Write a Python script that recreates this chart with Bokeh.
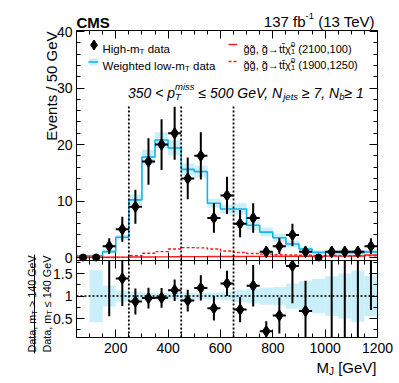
import math
from bokeh.plotting import figure
from bokeh.models import (Label, Legend, LegendItem, LinearAxis, SingleIntervalTicker,
                          ColumnDataSource, Range1d, Arrow)
from bokeh.embed import file_html
from bokeh.resources import INLINE

nan = float("nan")

# ---------------- data ----------------
bin_centers = [75, 125, 175, 225, 275, 325, 375, 425, 475, 525, 575, 625,
               675, 725, 775, 825, 875, 925, 975, 1025, 1075, 1125, 1175]
bin_half_width = 25
high_mt_data = [0, 0, 2, 5, 9, 17, 20, 22, 14, 18, 7, 11,
                6, 7, 1, 2, 4, 1, 0, 1, 1, 1, 2]
high_mt_err = [0, 0, 1.4, 2.2, 3.0, 4.1, 4.5, 4.7, 3.7, 4.2, 2.6, 3.3,
               2.4, 2.6, 1.0, 1.4, 2.0, 1.0, 0, 1.0, 1.0, 1.0, 1.4]
low_mt_weighted = [0.3, 0.3, 1.05, 3.6, 10.2, 17.8, 20.8, 19.4, 15.6, 15.2, 9.6, 8.6,
                   8.6, 5.7, 4.5, 3.5, 2.4, 1.5, 0.9, 0.9, 0.85, 0.85, 1.0]
low_mt_err = [0.1, 0.15, 0.25, 0.45, 0.95, 1.3, 1.4, 1.35, 1.05, 1.05, 0.8, 0.8,
              1.0, 0.85, 0.8, 0.7, 0.6, 0.45, 0.35, 0.4, 0.42, 0.48, 0.4]
sig_2100_100 = [0.05, 0.05, 0.05, 0.06, 0.08, 0.1, 0.12, 0.13, 0.15, 0.16, 0.17, 0.18,
                0.19, 0.2, 0.2, 0.21, 0.22, 0.22, 0.23, 0.24, 0.25, 0.27, 0.45]
sig_1900_1250 = [0, 0, 0, 0.02, 0.3, 0.75, 1.05, 1.5, 1.75, 1.7, 1.5, 1.15,
                 0.9, 0.7, 0.6, 0.5, 0.45, 0.4, 0.35, 0.35, 0.3, 0.3, 0.3]
ratio_vals = [nan, nan, 1.9, 1.39, 0.88, 0.955, 0.96, 1.13, 0.9, 1.18, 0.73, 1.28,
              0.7, 1.23, 0.22, 0.57, 1.67, 0.67, nan, 2.5, 2.5, 2.5, 2.35]
ratio_err = [0, 0, 1.35, 0.61, 0.29, 0.23, 0.22, 0.24, 0.24, 0.28, 0.27, 0.28,
             0.28, 0.46, 0.22, 0.4, 0.83, 0.67, 0, 2.5, 2.5, 2.5, 1.66]
ratio_band = [nan, 0.575, 0.23, 0.125, 0.095, 0.08, 0.07, 0.07, 0.07, 0.07, 0.08, 0.09,
              0.13, 0.16, 0.19, 0.2, 0.28, 0.33, 0.38, 0.44, 0.5, 0.57, 0.44]
cut_edges = [250, 450, 650]
cut_line_top = 27

# ---------------- style / layout ----------------
FONT = "Liberation Sans"
CYAN = "#12b4ee"
BAND = "#c8effa"
RED = "#ff1a1a"
XMIN, XMAX = 50, 1200
MY0, MY1 = -0.53, 40.2
RY0, RY1 = 0.08, 1.79
W, H = 395, 380
BOX_L, BOX_R = 76, 377
MAIN_T, MAIN_B, RAT_B = 30, 260, 337
MARK = 11.5

sx = (BOX_R - BOX_L) / (XMAX - XMIN)
x_start = XMIN - BOX_L / sx
x_end = x_start + W / sx
mpx = (MAIN_B - MAIN_T) / (MY1 - MY0)
m_top = MY1 + MAIN_T / mpx
m_bot = MY0 - (H - MAIN_B) / mpx
rpx = (RAT_B - MAIN_B) / (RY1 - RY0)
r_top = RY1 + MAIN_B / rpx
r_bot = RY0 - (H - RAT_B) / rpx

def mx(px):
    return x_start + px / sx

def my(py):
    return m_top - py / mpx

AW = {' ': 278, ',': 278, '.': 278, '-': 333, '/': 278, '(': 333, ')': 333, '[': 278, ']': 278,
      '<': 584, '>': 584, '\u2264': 549, '\u2265': 549, '\u2192': 1000, '\u03c7': 549,
      '\u0303': 0, '\u0304': 0,
      'A': 667, 'C': 722, 'D': 722, 'E': 667, 'G': 778, 'H': 722, 'J': 500, 'M': 833,
      'N': 722, 'S': 667, 'T': 611, 'V': 667, 'W': 944,
      'a': 556, 'b': 556, 'd': 556, 'e': 556, 'f': 278, 'g': 556, 'h': 556, 'i': 222,
      'j': 222, 'l': 222, 'm': 833, 'n': 556, 'o': 556, 'p': 556, 's': 500, 't': 278,
      'v': 500, 'w': 722}

def tw(s, size):
    return sum(AW.get(c, 556) for c in s) * size / 1000.0

p = figure(width=W, height=H, title=None,
           x_range=Range1d(x_start, x_end), y_range=Range1d(m_bot, m_top),
           output_backend="svg", toolbar_location=None,
           min_border=0, min_border_left=0, min_border_right=0, min_border_top=0, min_border_bottom=0,
           x_axis_location=None, y_axis_location=None)
p.extra_y_ranges = {"ratio": Range1d(r_bot, r_top)}
p.grid.visible = False
p.outline_line_color = None
p.background_fill_color = "white"
p.border_fill_color = "white"

def lab(xpx, ypx, text, size, align="left", style="normal", angle=0.0):
    lead = len(text) - len(text.lstrip(' '))
    if lead and align == "left" and angle == 0:
        xpx += tw(' ' * lead, size)
    p.add_layout(Label(x=mx(xpx), y=my(ypx), text=text.strip(' '), text_font=FONT,
                       text_font_size=f"{size}px", text_font_style=style,
                       text_align=align, text_baseline="alphabetic", angle=angle,
                       text_color="black"))

def seq(x, base, pieces, style="normal"):
    for text, size, dy, adv in pieces:
        lab(x, base + dy, text, size, style=style)
        if adv:
            x += tw(text, size)
    return x

def rseq(base_px, start_py, pieces):
    py = start_py
    for text, size, dy in pieces:
        lead = len(text) - len(text.lstrip(' '))
        py -= tw(' ' * lead, size)
        p.add_layout(Label(x=mx(base_px + dy), y=my(py), text=text.strip(' '), text_font=FONT,
                           text_font_size=f"{size}px", text_align="left",
                           text_baseline="alphabetic", angle=math.pi / 2, text_color="black"))
        py -= tw(text.lstrip(' '), size)

def axis(interval, minor, fixed, bounds, labels=False, yname="default", standoff=4, overrides=None):
    ax = LinearAxis(
        ticker=SingleIntervalTicker(interval=interval, num_minor_ticks=minor),
        fixed_location=fixed, bounds=bounds, y_range_name=yname,
        major_tick_in=8, major_tick_out=0, minor_tick_in=4, minor_tick_out=0,
        axis_line_color="black", axis_line_width=1,
        major_tick_line_color="black", minor_tick_line_color="black",
        major_label_text_font=FONT, major_label_text_font_size="14px",
        major_label_standoff=standoff,
        major_label_text_color=("black" if labels else None))
    if overrides:
        ax.major_label_overrides = overrides
    return ax

# frame boxes built from axes
p.add_layout(axis(10, 5, XMIN, (MY0, MY1), labels=True, standoff=4), "left")
p.add_layout(axis(10, 5, XMAX, (MY0, MY1)), "right")
p.add_layout(axis(200, 4, MY1, (XMIN, XMAX)), "above")
p.add_layout(axis(200, 4, MY0, (XMIN, XMAX)), "below")
p.add_layout(axis(0.5, 2, XMIN, (RY0, RY1), labels=True, yname="ratio", standoff=4,
                  overrides={0.5: "0.5", 1: "1", 1.5: "1.5"}), "left")
p.add_layout(axis(0.5, 2, XMAX, (RY0, RY1), yname="ratio"), "right")
p.add_layout(axis(200, 4, RY1, (XMIN, XMAX), yname="ratio"), "above")
p.add_layout(axis(200, 4, RY0, (XMIN, XMAX), labels=True, yname="ratio", standoff=5), "below")

# ---------------- derived sources ----------------
lefts = [c - bin_half_width for c in bin_centers]
rights = [c + bin_half_width for c in bin_centers]
edges = lefts + [rights[-1]]

nz = [i for i, v in enumerate(high_mt_data) if v > 0]
zr = [i for i, v in enumerate(high_mt_data) if v == 0]
src_nz = ColumnDataSource(dict(
    x=[bin_centers[i] for i in nz], y=[high_mt_data[i] for i in nz],
    lo=[high_mt_data[i] - high_mt_err[i] for i in nz], hi=[high_mt_data[i] + high_mt_err[i] for i in nz],
    l=[lefts[i] for i in nz], r=[rights[i] for i in nz]))
src_z = ColumnDataSource(dict(x=[bin_centers[i] for i in zr], y=[high_mt_data[i] for i in zr]))
src_band = ColumnDataSource(dict(
    l=lefts, r=rights,
    b=[v - e for v, e in zip(low_mt_weighted, low_mt_err)],
    t=[v + e for v, e in zip(low_mt_weighted, low_mt_err)]))

# ratio: keep what lies inside the ratio box (the pad clips it in the original)
rk = [i for i, v in enumerate(ratio_vals) if not math.isnan(v)]
src_rbar = ColumnDataSource(dict(
    x=[bin_centers[i] for i in rk],
    lo=[max(ratio_vals[i] - ratio_err[i], RY0) for i in rk],
    hi=[min(ratio_vals[i] + ratio_err[i], RY1) for i in rk]))
rv = [i for i in rk if RY0 <= ratio_vals[i] <= RY1]
src_rpt = ColumnDataSource(dict(
    x=[bin_centers[i] for i in rv], y=[ratio_vals[i] for i in rv],
    l=[lefts[i] for i in rv], r=[rights[i] for i in rv]))
bk = [i for i, v in enumerate(ratio_band) if not math.isnan(v)]
src_rb = ColumnDataSource(dict(
    l=[lefts[i] for i in bk], r=[rights[i] for i in bk],
    b=[1 - ratio_band[i] for i in bk], t=[1 + ratio_band[i] for i in bk]))

# ---------------- main panel glyphs ----------------
r_band = p.quad(left="l", right="r", bottom="b", top="t", source=src_band,
                fill_color=BAND, line_color=None)
r_step = p.step(edges, low_mt_weighted + [low_mt_weighted[-1]], mode="after",
                line_color=CYAN, line_width=1.6)
r_sa = p.step(edges, sig_2100_100 + [sig_2100_100[-1]], mode="after",
              line_color=RED, line_width=1.4)
r_sb = p.step(edges, sig_1900_1250 + [sig_1900_1250[-1]], mode="after",
              line_color=RED, line_width=1.4, line_dash="3 2")
p.segment(x0=cut_edges, y0=[MY0] * len(cut_edges), x1=cut_edges, y1=[cut_line_top] * len(cut_edges),
          line_color="black", line_width=1.8, line_dash="2 2")
p.segment(x0="x", y0="lo", x1="x", y1="hi", source=src_nz, line_color="black", line_width=2)
p.segment(x0="l", y0="y", x1="r", y1="y", source=src_nz, line_color="black", line_width=2)
r_data = p.scatter("x", "y", source=src_nz, marker="diamond", size=MARK,
                   fill_color="black", line_color="black")
p.scatter("x", "y", source=src_z, marker="circle", size=7, fill_color="black", line_color="black")

# ---------------- ratio panel glyphs ----------------
p.quad(left="l", right="r", bottom="b", top="t", source=src_rb, fill_color=BAND, line_color=None,
       y_range_name="ratio")
p.segment(x0=[XMIN], y0=[1], x1=[XMAX], y1=[1], line_color="black", line_width=1.5,
          line_dash="2 2", y_range_name="ratio")
p.segment(x0=cut_edges, y0=[RY0] * len(cut_edges), x1=cut_edges, y1=[RY1] * len(cut_edges),
          line_color="black", line_width=1.8, line_dash="2 2", y_range_name="ratio")
p.segment(x0="x", y0="lo", x1="x", y1="hi", source=src_rbar, line_color="black", line_width=2,
          y_range_name="ratio")
p.segment(x0="l", y0="y", x1="r", y1="y", source=src_rpt, line_color="black", line_width=2,
          y_range_name="ratio")
p.scatter("x", "y", source=src_rpt, marker="diamond", size=MARK, fill_color="black",
          line_color="black", y_range_name="ratio")

# ---------------- legends ----------------
def mk_legend(items, loc, gw, gh, spacing=0):
    return Legend(items=items, location=loc, glyph_width=gw, glyph_height=gh,
                  label_width=0, label_height=gh, label_standoff=0, padding=0, spacing=spacing,
                  margin=0, border_line_alpha=0, background_fill_alpha=0,
                  label_text_font_size="1px", label_text_color="white")

p.add_layout(mk_legend([LegendItem(label=" ", renderers=[r_data])], (80.5, H - 56.5), 25, 25))
p.add_layout(mk_legend([LegendItem(label=" ", renderers=[r_band, r_step])], (88, H - 65.5), 10, 9))
p.add_layout(mk_legend([LegendItem(label=" ", renderers=[r_sa]),
                        LegendItem(label=" ", renderers=[r_sb])], (227.5, H - 65), 9, 8, spacing=9))

# ---------------- texts ----------------
lab(76, 22, "CMS", 15, style="bold")
w_hdr = tw("137 fb", 15) + tw("-1", 9.5) + tw(" (13 TeV)", 15)
seq(376 - w_hdr, 21, [("137 fb", 15, 0, True), ("-1", 9.5, -6, True), (" (13 TeV)", 15, 0, True)])

seq(102, 48, [("High-m", 11.5, 0, True), ("T", 8, 3, True), (" data", 11.5, 0, True)])
seq(102, 65, [("Weighted low-m", 11.5, 0, True), ("T", 8, 3, True), (" data", 11.5, 0, True)])
sig_txt = "g\u0303g\u0303, g\u0303\u2192tt\u0304\u03c7\u0303"
for base, masses in ((48, "(2100,100)"), (64.5, "(1900,1250)")):
    seq(243, base, [(sig_txt, 11, 0, True), ("0", 7.5, -4.5, False), ("1", 7.5, 2.5, True),
                    (" " + masses, 11, 0, True)])

seq(127.5, 92, [("350 < p", 14, 0, True), ("T", 9.5, 3.5, False), ("miss", 9.5, -6, True),
                (" \u2264 500 GeV, N", 14, 0, True), ("jets", 9.5, 3.5, True),
                (" \u2265 7, N", 14, 0, True), ("b", 9.5, 3.5, True), ("\u2265 1", 14, 0, True)],
    style="italic")

lab(51, 31, "Events / 50 GeV", 15, align="right", angle=math.pi / 2)

w_xt = tw("M", 15) + tw("J", 10) + tw(" [GeV]", 15)
seq(376 - w_xt, 367, [("M", 15, 0, True), ("J", 10, 3.5, True), (" [GeV]", 15, 0, True)])

rseq(31, 352, [("Data, m", 10.8, 0), ("T", 7.5, 2.5), (" > 140 GeV", 10.8, 0)])
rseq(46, 352, [("Data, m", 10.8, 0), ("T", 7.5, 2.5), (" \u2264 140 GeV", 10.8, 0)])
p.add_layout(Arrow(start=None, end=None, x_start=mx(34), y_start=my(353), x_end=mx(34), y_end=my(254),
                   line_color="black", line_width=1))

open("out.html", "w").write(file_html(p, INLINE))
